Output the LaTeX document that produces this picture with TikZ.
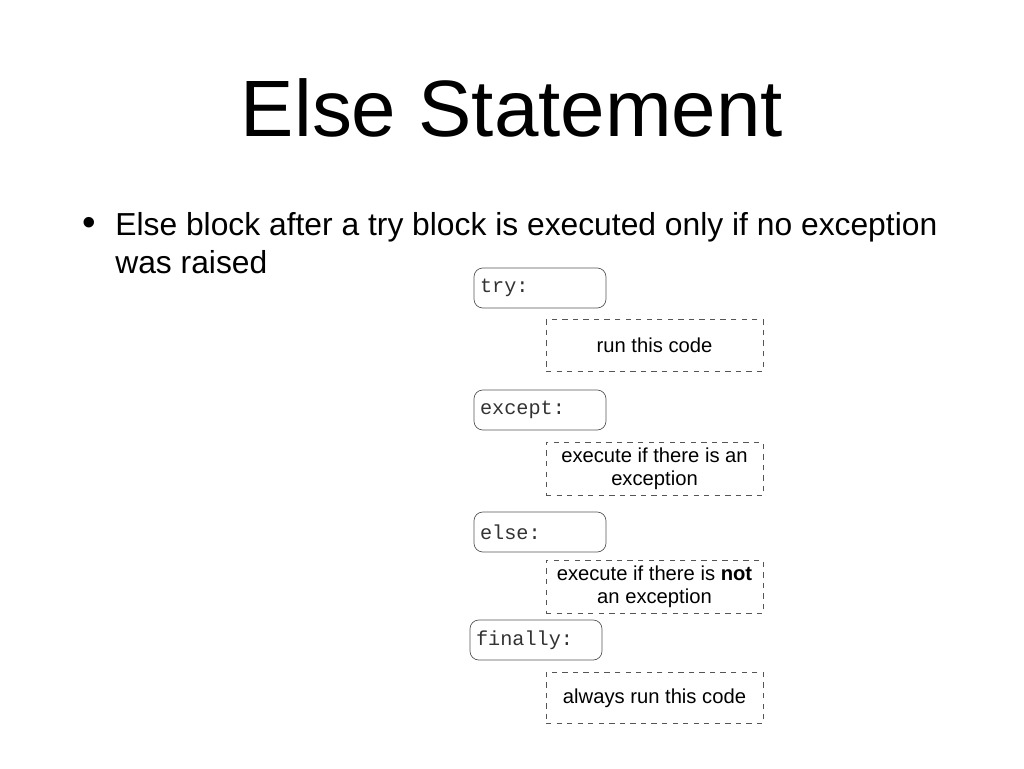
\documentclass[tikz,border=0pt]{standalone}
\usepackage{fontspec}
\setmainfont{Liberation Sans}
\setmonofont{Liberation Mono}
\usetikzlibrary{positioning}
\definecolor{BoxGray}{HTML}{555555}

\begin{document}
\begin{tikzpicture}[x=0.02cm,y=-0.02cm,
    kwbox/.style={draw=BoxGray,rounded corners=5pt,minimum width=2.64cm,minimum height=0.8cm,
      inner sep=3pt,font=\ttfamily\fontsize{11.5}{13}\selectfont,text=black!80},
    actbox/.style={draw=BoxGray,dashed,minimum width=4.34cm,minimum height=1.03cm,
      align=center,font=\fontsize{11.5}{13}\selectfont}]
  \useasboundingbox (0,0) rectangle (1024,768);
  % title and bullet
  \node[font=\fontsize{45.5}{52}\selectfont] (title) at (512,108) {Else Statement};
  \node[anchor=west,font=\fontsize{22}{26}\selectfont] (dot) at (76,226) {\textbullet};
  \node[anchor=north west,align=left,inner sep=0pt,font=\fontsize{18.1}{21.5}\selectfont] (bullet) at (115,212)
    {Else block after a try block is executed only if no exception\\was raised};
  % keyword boxes
  \node[kwbox] (try) at (540,288) {\makebox[2.4cm][l]{try:}};
  \node[kwbox] (except) at (540,410) {\makebox[2.4cm][l]{except:}};
  \node[kwbox] (else) at (540,532) {\makebox[2.4cm][l]{else:}};
  \node[kwbox] (finally) at (536,640) {\makebox[2.4cm][l]{finally:}};
  % action boxes
  \node[actbox] (run) at (654.5,345.5) {run this code};
  \node[actbox] (exc) at (654.5,469) {execute if there is an\\exception};
  \node[actbox] (noexc) at (654.5,587) {execute if there is \textbf{not}\\an exception};
  \node[actbox] (always) at (654.5,698) {always run this code};
\end{tikzpicture}
\end{document}
